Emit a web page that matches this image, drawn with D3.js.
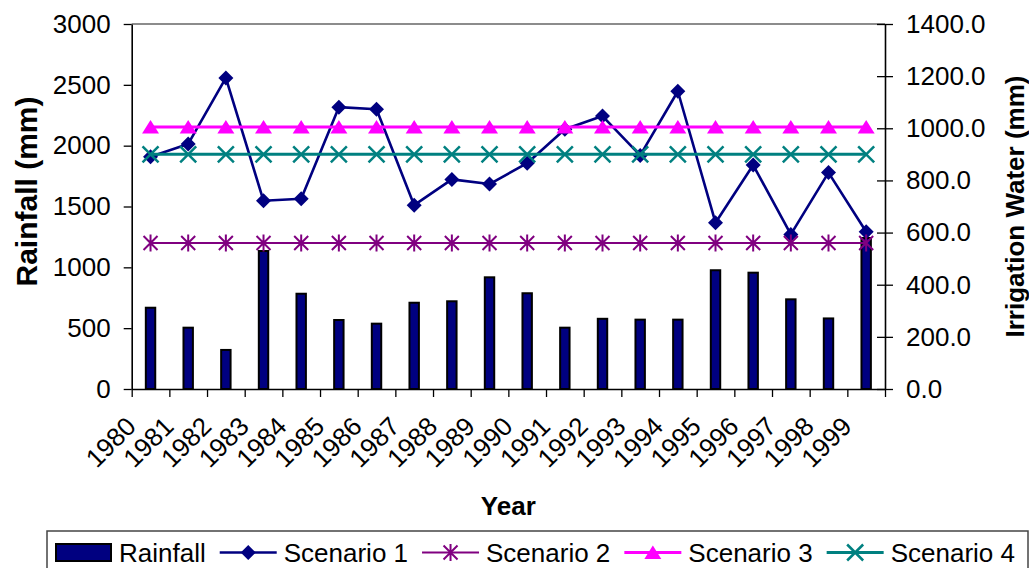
<!DOCTYPE html>
<html><head><meta charset="utf-8">
<script src="https://cdn.jsdelivr.net/npm/d3@7"></script>
<style>
body{margin:0;background:#fff}
svg{display:block;background:#fff}
text{font-family:"Liberation Sans",Arial,sans-serif;fill:#000}
</style>
</head><body>
<svg id="chart" width="1029" height="568"></svg>
<script>
const years = ["1980","1981","1982","1983","1984","1985","1986","1987","1988","1989",
               "1990","1991","1992","1993","1994","1995","1996","1997","1998","1999"];
const rainfall  = [668,504,321,1134,783,567,537,709,721,918,787,504,577,570,570,976,956,737,580,1241];
const scenario1 = [891,940,1193,722,730,1081,1073,705,804,786,866,996,1047,896,1142,638,859,593,830,603];
const scenario2 = [560,560,560,560,560,560,560,560,560,560,560,560,560,560,560,560,560,560,560,560];
const scenario3 = [1005,1005,1005,1005,1005,1005,1005,1005,1005,1005,1005,1005,1005,1005,1005,1005,1005,1005,1005,1005];
const scenario4 = [900,900,900,900,900,900,900,900,900,900,900,900,900,900,900,900,900,900,900,900];
const leftTicks  = [0,500,1000,1500,2000,2500,3000];
const rightTicks = [0,200,400,600,800,1000,1200,1400];
const seriesNames = ["Rainfall","Scenario 1","Scenario 2","Scenario 3","Scenario 4"];

const svg = d3.select("#chart");
const L = 131.7, R = 885, T = 24, B = 389;
const FS = 26;

const x = d3.scaleBand().domain(years).range([L, R]).paddingInner(0.75).paddingOuter(0.375);
const yL = d3.scaleLinear().domain([0, 3000]).range([B, T]);
const yR = d3.scaleLinear().domain([0, 1400]).range([B, T]);
const cx = d => x(d) + x.bandwidth() / 2;

// plot area top border (grey)
svg.append("line").attr("x1", L).attr("x2", R).attr("y1", T).attr("y2", T)
  .attr("stroke", "#8c8c8c").attr("stroke-width", 2);

// bars
svg.append("g").selectAll("rect").data(rainfall).join("rect")
  .attr("x", (d, i) => x(years[i]))
  .attr("width", x.bandwidth())
  .attr("y", d => yL(d))
  .attr("height", d => B - yL(d))
  .attr("fill", "#000080").attr("stroke", "#000").attr("stroke-width", 2);

// axes
const gL = svg.append("g").attr("transform", `translate(${L},0)`)
  .call(d3.axisLeft(yL).tickValues(leftTicks).tickFormat(d3.format("d")).tickSize(8).tickSizeOuter(0).tickPadding(13));
const gR = svg.append("g").attr("transform", `translate(${R},0)`)
  .call(d3.axisRight(yR).tickValues(rightTicks).tickFormat(d3.format(".1f")).tickSize(8).tickSizeOuter(0).tickPadding(13));
gR.selectAll(".tick line").attr("x1", -8).attr("x2", 8);
const xTickScale = d3.scaleLinear().domain([0, years.length]).range([L, R]);
const gB = svg.append("g").attr("transform", `translate(0,${B})`)
  .call(d3.axisBottom(xTickScale).tickValues(d3.range(years.length + 1)).tickFormat("").tickSize(8).tickSizeOuter(0));
[gL, gR, gB].forEach(g => {
  g.attr("font-family", null).attr("font-size", null);
  g.selectAll(".domain").attr("stroke", "#000").attr("stroke-width", 1.6);
  g.selectAll(".tick line").attr("stroke", "#000").attr("stroke-width", 1.3);
  g.selectAll(".tick text").attr("font-size", FS).attr("fill", "#000");
});

// x labels rotated
svg.append("g").selectAll("text").data(years).join("text")
  .attr("text-anchor", "end").attr("font-size", FS)
  .attr("transform", d => `translate(${cx(d) - 13},428) rotate(-45)`)
  .text(d => d);

// marker shapes
const diamond = "M0,-7.5L7.5,0L0,7.5L-7.5,0Z";
const triangle = "M0,-7L8.5,6.5L-8.5,6.5Z";
const asterisk = "M0,-8.5V8.5M-7,-7L7,7M-7,7L7,-7";
const cross = "M-8,-8L8,8M-8,8L8,-8";

const series = [
  {vals: scenario1, color: "#000080", lw: 2.6, shape: diamond, fill: true, mw: 0},
  {vals: scenario2, color: "#800080", lw: 2, shape: asterisk, fill: false, mw: 2},
  {vals: scenario3, color: "#FF00FF", lw: 3, shape: triangle, fill: true, mw: 0},
  {vals: scenario4, color: "#008080", lw: 3, shape: cross, fill: false, mw: 2.5}
];
const line = d3.line().x((d, i) => cx(years[i])).y(d => yR(d));
series.forEach(s => {
  const g = svg.append("g");
  g.append("path").datum(s.vals).attr("d", line).attr("fill", "none")
    .attr("stroke", s.color).attr("stroke-width", s.lw).attr("stroke-linejoin", "round");
  g.selectAll("path.m").data(s.vals).join("path").attr("class", "m")
    .attr("d", s.shape)
    .attr("transform", (d, i) => `translate(${cx(years[i])},${yR(d)})`)
    .attr("fill", s.fill ? s.color : "none")
    .attr("stroke", s.color).attr("stroke-width", s.mw);
});

// axis titles
svg.append("text").attr("font-size", 30).attr("font-weight", "bold").attr("text-anchor", "middle")
  .attr("transform", `translate(37,${(T + B) / 2 - 15}) rotate(-90)`).text("Rainfall (mm)");
svg.append("text").attr("font-size", FS).attr("font-weight", "bold").attr("text-anchor", "middle")
  .attr("transform", `translate(1024,${(T + B) / 2}) rotate(-90)`).text("Irrigation Water (mm)");
svg.append("text").attr("font-size", FS).attr("font-weight", "bold").attr("text-anchor", "middle")
  .attr("x", (L + R) / 2).attr("y", 515).text("Year");

// legend
const lg = svg.append("g");
lg.append("rect").attr("x", 47).attr("y", 531).attr("width", 981).attr("height", 50)
  .attr("fill", "#fff").attr("stroke", "#444").attr("stroke-width", 1.5);
let lx = 56;
const ly = 552.5;
seriesNames.forEach((name, k) => {
  if (k === 0) {
    lg.append("rect").attr("x", lx).attr("y", ly - 8.5).attr("width", 55).attr("height", 17)
      .attr("fill", "#000080").attr("stroke", "#000").attr("stroke-width", 2);
    lx += 63;
  } else {
    const s = series[k - 1];
    lg.append("line").attr("x1", lx).attr("x2", lx + 57).attr("y1", ly).attr("y2", ly)
      .attr("stroke", s.color).attr("stroke-width", s.lw);
    lg.append("path").attr("d", s.shape).attr("transform", `translate(${lx + 28.5},${ly})`)
      .attr("fill", s.fill ? s.color : "none").attr("stroke", s.color).attr("stroke-width", s.mw);
    lx += 64;
  }
  const t = lg.append("text").attr("x", lx).attr("y", ly + 9).attr("font-size", FS).text(name);
  lx += t.node().getComputedTextLength() + 14;
});
</script>
</body></html>
